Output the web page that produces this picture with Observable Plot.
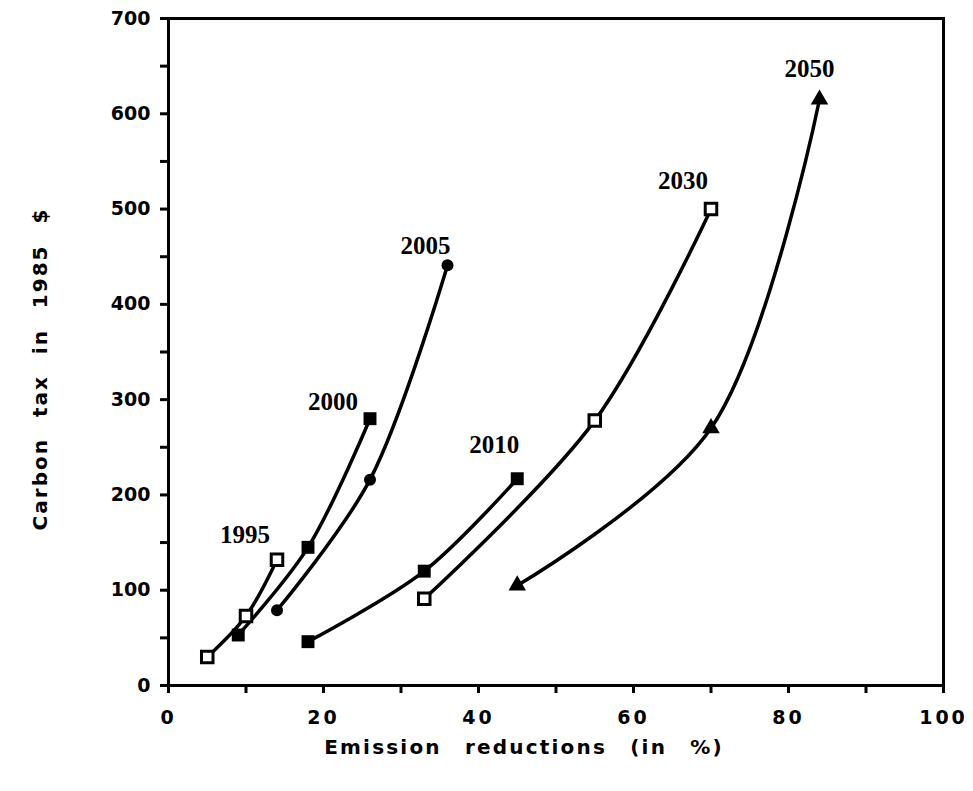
<!DOCTYPE html>
<html>
<head>
<meta charset="utf-8">
<script src="https://cdn.jsdelivr.net/npm/d3@7"></script>
<script src="https://cdn.jsdelivr.net/npm/@observablehq/plot@0.6"></script>
<style>
  html, body { margin: 0; padding: 0; background: #fff; overflow: hidden; }
</style>
</head>
<body>
<div id="chart"></div>
<script>
// Series (emission reduction %, carbon tax in 1985 $)
const years = ["1995", "2000", "2005", "2010", "2030", "2050"];
const x1995 = [5, 10, 14];   const y1995 = [30, 73, 132];
const x2000 = [9, 18, 26];   const y2000 = [53, 145, 280];
const x2005 = [14, 26, 36];  const y2005 = [79, 216, 441];
const x2010 = [18, 33, 45];  const y2010 = [46, 120, 217];
const x2030 = [33, 55, 70];  const y2030 = [91, 278, 500];
const x2050 = [45, 70, 84];  const y2050 = [105, 270, 615];
const markers = {"1995": "open-square", "2000": "square", "2005": "circle", "2010": "square", "2030": "open-square", "2050": "triangle"};
const xTicks = [0, 10, 20, 30, 40, 50, 60, 70, 80, 90, 100];
const yTicks = [0, 50, 100, 150, 200, 250, 300, 350, 400, 450, 500, 550, 600, 650, 700];
const xTitle = "Emission reductions (in %)";
const yTitle = "Carbon tax in 1985 $";

const xs = {"1995": x1995, "2000": x2000, "2005": x2005, "2010": x2010, "2030": x2030, "2050": x2050};
const ys = {"1995": y1995, "2000": y2000, "2005": y2005, "2010": y2010, "2030": y2030, "2050": y2050};
const data = years.flatMap(yr => xs[yr].map((x, i) => ({year: yr, x, y: ys[yr][i], marker: markers[yr], last: i === xs[yr].length - 1})));
const lastPts = data.filter(d => d.last);
const labelOffsets = {"1995": [-32, -25], "2000": [-37, -17], "2005": [-22, -19], "2010": [-23, -34], "2030": [-28, -28], "2050": [-10, -30]};

const serif = "'Liberation Serif', 'Times New Roman', serif";
const sans = "'DejaVu Sans', 'Liberation Sans', Arial, sans-serif";

const chart = Plot.plot({
  width: 973,
  height: 791,
  marginLeft: 168,
  marginRight: 30,
  marginTop: 18,
  marginBottom: 106,
  style: {fontFamily: sans, fontWeight: "bold", background: "#fff", color: "#000"},
  x: {domain: [0, 100]},
  y: {domain: [0, 700]},
  marks: [
    Plot.frame({strokeWidth: 3}),
    Plot.axisX({ticks: xTicks, tickSize: 8, tickPadding: 17, strokeWidth: 3, fontSize: 19, fontWeight: "bold",
      fontFamily: sans, tickFormat: d => d % 20 === 0 ? String(d) : "", label: null}),
    Plot.axisY({ticks: yTicks, tickSize: 8, tickPadding: 10, strokeWidth: 3, fontSize: 19, fontWeight: "bold",
      fontFamily: sans, tickFormat: d => d % 100 === 0 ? String(d) : "", label: null}),
    Plot.text([xTitle], {frameAnchor: "bottom", dx: -32, dy: 68, fontSize: 20, fontWeight: "bold", fontFamily: sans}),
    Plot.text([yTitle], {frameAnchor: "left", textAnchor: "middle", dx: -128, dy: 17, rotate: -90, fontSize: 20, fontWeight: "bold", fontFamily: sans}),
    Plot.line(data, {x: "x", y: "y", z: "year", curve: "catmull-rom", stroke: "#000", strokeWidth: 3.5}),
    Plot.dot(data.filter(d => d.marker === "square"), {x: "x", y: "y", symbol: "square", r: 7.3, fill: "#000", stroke: "none"}),
    Plot.dot(data.filter(d => d.marker === "open-square"), {x: "x", y: "y", symbol: "square", r: 6.5, fill: "#fff", stroke: "#000", strokeWidth: 3}),
    Plot.dot(data.filter(d => d.marker === "circle"), {x: "x", y: "y", symbol: "circle", r: 6, fill: "#000", stroke: "none"}),
    Plot.dot(data.filter(d => d.marker === "triangle"), {x: "x", y: "y", symbol: "triangle", r: 6.5, fill: "#000", stroke: "none"}),
    ...lastPts.map(d => Plot.text([d], {x: "x", y: "y", text: "year", dx: labelOffsets[d.year][0], dy: labelOffsets[d.year][1],
      fontFamily: serif, fontSize: 25, fontWeight: "bold"}))
  ]
});
chart.querySelectorAll('g[aria-label="x-axis tick label"] text').forEach(t => { t.style.letterSpacing = "3px"; });
chart.querySelectorAll("text").forEach(t => {
  if (t.textContent === xTitle) { t.style.letterSpacing = "2.2px"; t.style.wordSpacing = "14px"; }
  if (t.textContent === yTitle) { t.style.letterSpacing = "2px"; t.style.wordSpacing = "12px"; }
});
document.getElementById("chart").appendChild(chart);
</script>
</body>
</html>
